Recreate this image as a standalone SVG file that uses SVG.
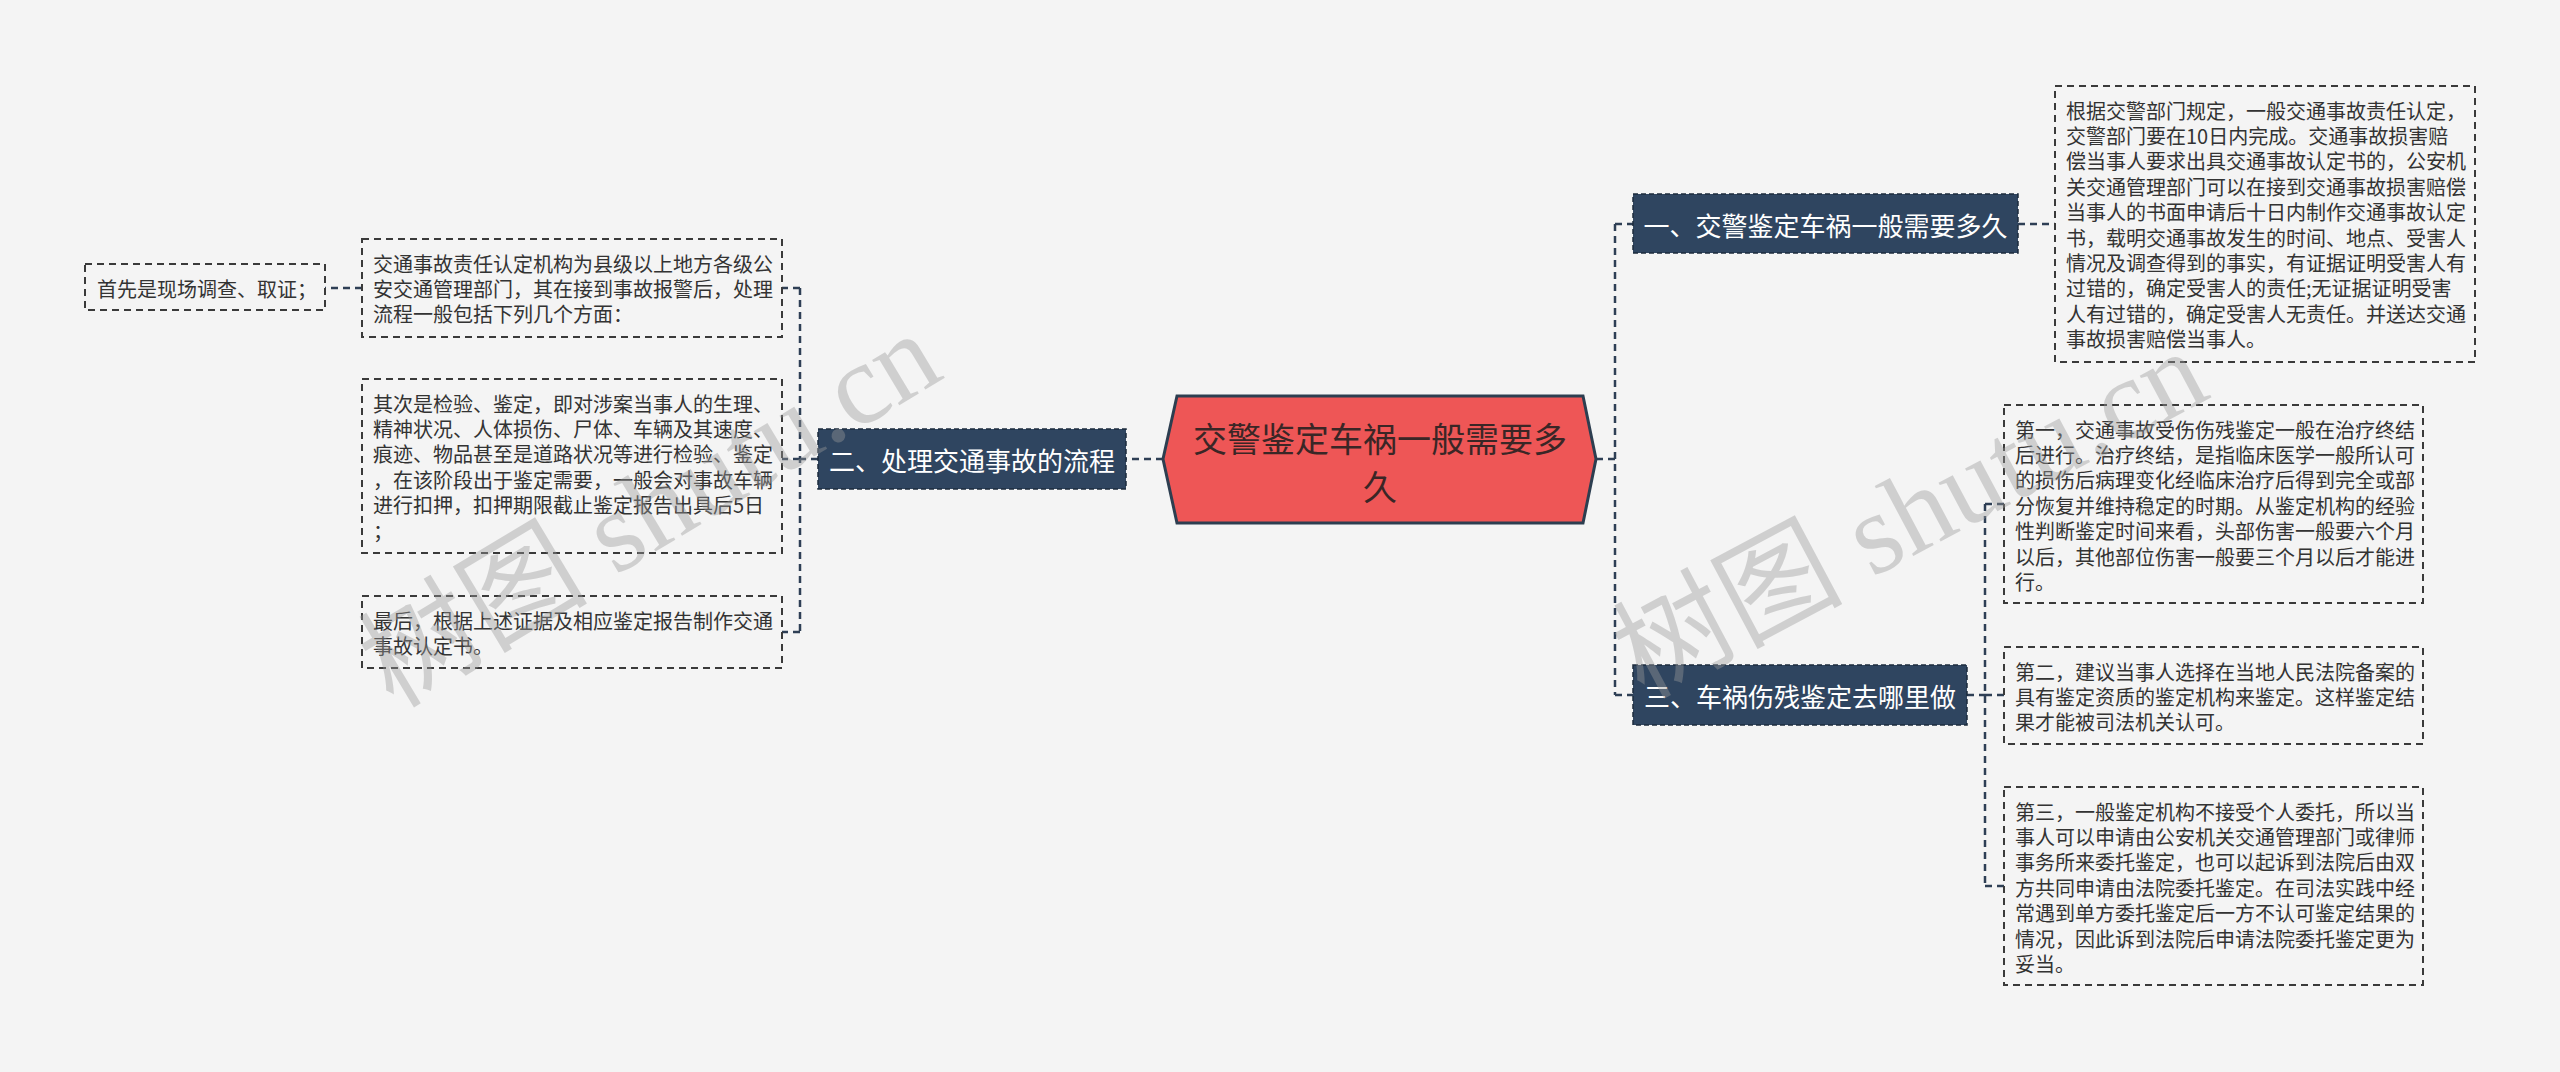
<svg xmlns="http://www.w3.org/2000/svg" width="2560" height="1072" viewBox="0 0 2560 1072">
<style>
.bg{fill:#f4f4f4}
.conn{fill:none;stroke:#2e3f55;stroke-width:2.5;stroke-dasharray:7 5}
.branch{fill:#2f4560;stroke:#1d2b3c;stroke-width:1.5;stroke-dasharray:5 3}
.btext{font-family:"Noto Sans CJK SC","Noto Sans",sans-serif;font-size:26px;fill:#ffffff;text-anchor:middle;dominant-baseline:central}
.detail{fill:none;stroke:#3a3a3a;stroke-width:2;stroke-dasharray:7 5}
.dtext{font-family:"Noto Sans CJK SC","Noto Sans",sans-serif;font-size:20px;fill:#333333;dominant-baseline:central}
.ctext{font-family:"Noto Sans CJK SC","Noto Sans",sans-serif;font-size:34px;fill:#3a2626;text-anchor:middle;dominant-baseline:central}
.wm{font-family:"Liberation Serif","Noto Sans CJK SC",serif;font-size:115px;fill:#9a9a9a;opacity:0.4;text-anchor:middle;dominant-baseline:central}
</style>
<rect class="bg" x="0" y="0" width="2560" height="1072"/>

<g id="connectors">
<path class="conn" d="M1163 459 H1126"/>
<path class="conn" d="M818 459 H800"/>
<path class="conn" d="M800 288 V632"/>
<path class="conn" d="M800 288 H782 M800 459 H782 M800 632 H782"/>
<path class="conn" d="M362 288 H325"/>
<path class="conn" d="M1596 459 H1615"/>
<path class="conn" d="M1615 224 V695"/>
<path class="conn" d="M1615 224 H1633 M1615 695 H1633"/>
<path class="conn" d="M2018 224 H2055"/>
<path class="conn" d="M1967 695 H1985"/>
<path class="conn" d="M1985 504 V886"/>
<path class="conn" d="M1985 504 H2004 M1985 695 H2004 M1985 886 H2004"/>
</g>

<g id="center">
<polygon points="1163,459 1177,396 1583,396 1596,459 1583,523 1177,523" fill="#ee5656" stroke="#2d3e50" stroke-width="3"/>
<text class="ctext" x="1380" y="437">交警鉴定车祸一般需要多</text>
<text class="ctext" x="1380" y="485">久</text>
</g>

<g id="branch1">
<rect class="branch" x="1633" y="194" width="385" height="59"/>
<text class="btext" x="1825.5" y="224">一、交警鉴定车祸一般需要多久</text>
</g>

<g id="branch2">
<rect class="branch" x="818" y="429" width="308" height="60"/>
<text class="btext" x="972" y="459">二、处理交通事故的流程</text>
</g>

<g id="branch3">
<rect class="branch" x="1633" y="665" width="334" height="60"/>
<text class="btext" x="1800" y="695">三、车祸伤残鉴定去哪里做</text>
</g>

<g id="detail1">
<rect class="detail" x="2055" y="86" width="420" height="276"/>
<text class="dtext" x="2066" y="110">根据交警部门规定，一般交通事故责任认定，</text>
<text class="dtext" x="2066" y="135.4">交警部门要在10日内完成。交通事故损害赔</text>
<text class="dtext" x="2066" y="160.8">偿当事人要求出具交通事故认定书的，公安机</text>
<text class="dtext" x="2066" y="186.2">关交通管理部门可以在接到交通事故损害赔偿</text>
<text class="dtext" x="2066" y="211.6">当事人的书面申请后十日内制作交通事故认定</text>
<text class="dtext" x="2066" y="237">书，载明交通事故发生的时间、地点、受害人</text>
<text class="dtext" x="2066" y="262.4">情况及调查得到的事实，有证据证明受害人有</text>
<text class="dtext" x="2066" y="287.8">过错的，确定受害人的责任;无证据证明受害</text>
<text class="dtext" x="2066" y="313.2">人有过错的，确定受害人无责任。并送达交通</text>
<text class="dtext" x="2066" y="338.6">事故损害赔偿当事人。</text>
</g>

<g id="detail3a">
<rect class="detail" x="2004" y="405" width="419" height="198"/>
<text class="dtext" x="2015" y="429">第一，交通事故受伤伤残鉴定一般在治疗终结</text>
<text class="dtext" x="2015" y="454.4">后进行。治疗终结，是指临床医学一般所认可</text>
<text class="dtext" x="2015" y="479.8">的损伤后病理变化经临床治疗后得到完全或部</text>
<text class="dtext" x="2015" y="505.2">分恢复并维持稳定的时期。从鉴定机构的经验</text>
<text class="dtext" x="2015" y="530.6">性判断鉴定时间来看，头部伤害一般要六个月</text>
<text class="dtext" x="2015" y="556">以后，其他部位伤害一般要三个月以后才能进</text>
<text class="dtext" x="2015" y="581.4">行。</text>
</g>

<g id="detail3b">
<rect class="detail" x="2004" y="647" width="419" height="97"/>
<text class="dtext" x="2015" y="671">第二，建议当事人选择在当地人民法院备案的</text>
<text class="dtext" x="2015" y="696.4">具有鉴定资质的鉴定机构来鉴定。这样鉴定结</text>
<text class="dtext" x="2015" y="721.8">果才能被司法机关认可。</text>
</g>

<g id="detail3c">
<rect class="detail" x="2004" y="787" width="419" height="198"/>
<text class="dtext" x="2015" y="811">第三，一般鉴定机构不接受个人委托，所以当</text>
<text class="dtext" x="2015" y="836.4">事人可以申请由公安机关交通管理部门或律师</text>
<text class="dtext" x="2015" y="861.8">事务所来委托鉴定，也可以起诉到法院后由双</text>
<text class="dtext" x="2015" y="887.2">方共同申请由法院委托鉴定。在司法实践中经</text>
<text class="dtext" x="2015" y="912.6">常遇到单方委托鉴定后一方不认可鉴定结果的</text>
<text class="dtext" x="2015" y="938">情况，因此诉到法院后申请法院委托鉴定更为</text>
<text class="dtext" x="2015" y="963.4">妥当。</text>
</g>

<g id="detail2a">
<rect class="detail" x="362" y="239" width="420" height="98"/>
<text class="dtext" x="373" y="263">交通事故责任认定机构为县级以上地方各级公</text>
<text class="dtext" x="373" y="288.4">安交通管理部门，其在接到事故报警后，处理</text>
<text class="dtext" x="373" y="313.8">流程一般包括下列几个方面：</text>
</g>

<g id="detail2b">
<rect class="detail" x="362" y="379" width="420" height="174"/>
<text class="dtext" x="373" y="403">其次是检验、鉴定，即对涉案当事人的生理、</text>
<text class="dtext" x="373" y="428.4">精神状况、人体损伤、尸体、车辆及其速度、</text>
<text class="dtext" x="373" y="453.8">痕迹、物品甚至是道路状况等进行检验、鉴定</text>
<text class="dtext" x="373" y="479.2">，在该阶段出于鉴定需要，一般会对事故车辆</text>
<text class="dtext" x="373" y="504.6">进行扣押，扣押期限截止鉴定报告出具后5日</text>
<text class="dtext" x="373" y="530">；</text>
</g>

<g id="detail2c">
<rect class="detail" x="362" y="596" width="420" height="72"/>
<text class="dtext" x="373" y="620">最后，根据上述证据及相应鉴定报告制作交通</text>
<text class="dtext" x="373" y="645.4">事故认定书。</text>
</g>

<g id="detail2first">
<rect class="detail" x="85" y="264" width="240" height="46"/>
<text class="dtext" x="97" y="288">首先是现场调查、取证；</text>
</g>

<g id="watermarks">
<text class="wm" transform="translate(650 510) rotate(-31)">树图 shutu.cn</text>
<text class="wm" transform="translate(1910 514) rotate(-28)">树图 shutu.cn</text>
</g>
</svg>
